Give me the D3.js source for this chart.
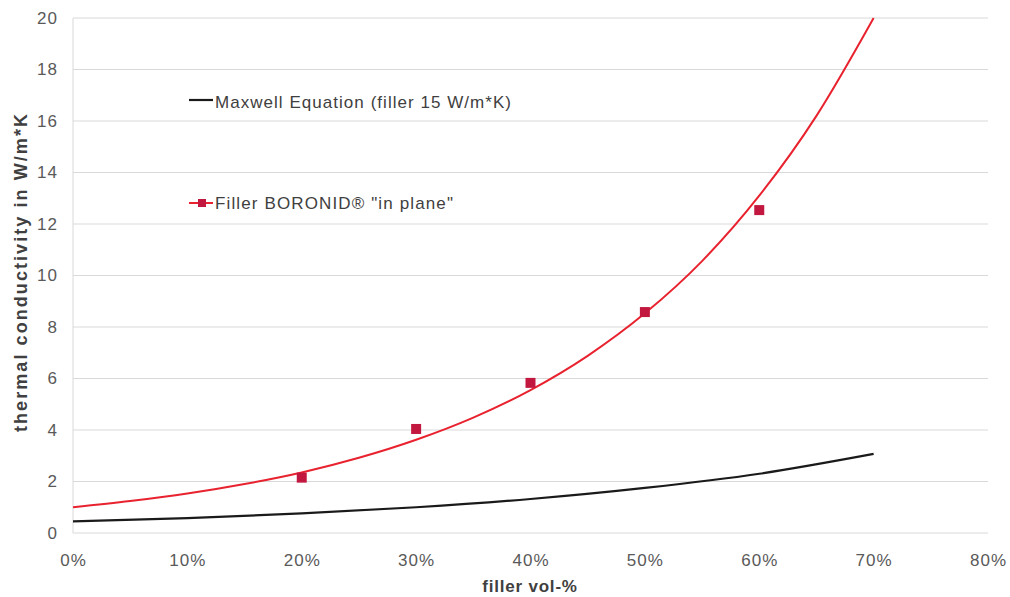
<!DOCTYPE html>
<html>
<head>
<meta charset="utf-8">
<script src="https://cdn.jsdelivr.net/npm/d3@7"></script>
<style>
  html, body { margin: 0; padding: 0; background: #fff; }
  svg { display: block; font-family: "Liberation Sans", Arial, sans-serif; }
</style>
</head>
<body>
<svg id="chart" width="1010" height="597"></svg>
<script>
// Axis ticks
const xTicks = [0, 10, 20, 30, 40, 50, 60, 70, 80];
const yTicks = [0, 2, 4, 6, 8, 10, 12, 14, 16, 18, 20];

// Maxwell equation curve (filler 15 W/m*K), filler vol-% vs W/m*K
const maxwellX = [0, 10, 20, 30, 40, 50, 60, 70];
const maxwellY = [0.45, 0.58, 0.76, 1.0, 1.32, 1.75, 2.3, 3.07];

// Measured BORONID "in plane" values
const boronidX = [20, 30, 40, 50, 60];
const boronidY = [2.15, 4.04, 5.83, 8.58, 12.54];

// Trend curve through the measured values
const trendX = [0, 5, 10, 15, 20, 25, 30, 35, 40, 45, 50, 55, 60, 65, 70];
const trendY = [1.0, 1.24, 1.53, 1.9, 2.35, 2.92, 3.62, 4.48, 5.55, 6.88, 8.53, 10.56, 13.1, 16.2, 20.0];

const svg = d3.select("#chart");
const plotLeft = 73, plotRight = 988, plotTop = 18, plotBottom = 533;

const x = d3.scaleLinear().domain([0, 80]).range([plotLeft, plotRight]);
const y = d3.scaleLinear().domain([0, 20]).range([plotBottom, plotTop]);

// Horizontal gridlines
svg.append("g")
  .selectAll("line")
  .data(yTicks)
  .join("line")
  .attr("x1", plotLeft).attr("x2", plotRight)
  .attr("y1", d => y(d)).attr("y2", d => y(d))
  .attr("stroke", "#d9d9d9").attr("stroke-width", 1);

// Left axis line
svg.append("line")
  .attr("x1", plotLeft).attr("x2", plotLeft)
  .attr("y1", plotTop).attr("y2", plotBottom)
  .attr("stroke", "#d9d9d9").attr("stroke-width", 1);

// Y axis
const yAxis = svg.append("g")
  .attr("transform", `translate(${plotLeft},0)`)
  .call(d3.axisLeft(y).tickValues(yTicks).tickSize(0).tickPadding(15));
yAxis.select(".domain").remove();
yAxis.selectAll("text")
  .attr("font-size", 17).attr("fill", "#595959").attr("letter-spacing", 1)
  .attr("font-family", "Liberation Sans, Arial, sans-serif");

// X axis
const xAxis = svg.append("g")
  .attr("transform", `translate(0,${plotBottom})`)
  .call(d3.axisBottom(x).tickValues(xTicks).tickSize(0).tickPadding(21)
    .tickFormat(d => d + "%"));
xAxis.select(".domain").remove();
xAxis.selectAll("text")
  .attr("font-size", 17).attr("fill", "#595959").attr("letter-spacing", 1)
  .attr("font-family", "Liberation Sans, Arial, sans-serif");

// Axis titles
svg.append("text")
  .attr("x", 530).attr("y", 592)
  .attr("text-anchor", "middle")
  .attr("font-size", 17).attr("font-weight", "bold").attr("fill", "#404040")
  .attr("letter-spacing", 0.8)
  .text("filler vol-%");

svg.append("text")
  .attr("transform", `translate(27,273) rotate(-90)`)
  .attr("text-anchor", "middle")
  .attr("font-size", 18).attr("font-weight", "bold").attr("fill", "#404040")
  .attr("textLength", 318).attr("lengthAdjust", "spacing")
  .text("thermal conductivity in W/m*K");

const line = d3.line()
  .x(d => x(d[0])).y(d => y(d[1]))
  .curve(d3.curveMonotoneX);

// Maxwell curve
svg.append("path")
  .datum(d3.zip(maxwellX, maxwellY))
  .attr("d", line)
  .attr("fill", "none").attr("stroke", "#1a1a1a").attr("stroke-width", 2.2);

// Trend curve
svg.append("path")
  .datum(d3.zip(trendX, trendY))
  .attr("d", line)
  .attr("fill", "none").attr("stroke", "#e8222e").attr("stroke-width", 2);

// Measured points
svg.append("g")
  .selectAll("rect")
  .data(d3.zip(boronidX, boronidY))
  .join("rect")
  .attr("x", d => x(d[0]) - 5).attr("y", d => y(d[1]) - 5)
  .attr("width", 10).attr("height", 10)
  .attr("fill", "#c21840");

// Legend
const legend = svg.append("g");
legend.append("line")
  .attr("x1", 189).attr("x2", 213).attr("y1", 100).attr("y2", 100)
  .attr("stroke", "#1a1a1a").attr("stroke-width", 2.2);
legend.append("text")
  .attr("x", 215).attr("y", 108)
  .attr("font-size", 17).attr("fill", "#404040")
  .attr("textLength", 296).attr("lengthAdjust", "spacing")
  .text("Maxwell Equation (filler 15 W/m*K)");

legend.append("line")
  .attr("x1", 189).attr("x2", 213).attr("y1", 203).attr("y2", 203)
  .attr("stroke", "#e8222e").attr("stroke-width", 2);
legend.append("rect")
  .attr("x", 198).attr("y", 199).attr("width", 8).attr("height", 8)
  .attr("fill", "#c21840");
legend.append("text")
  .attr("x", 215).attr("y", 209)
  .attr("font-size", 17).attr("fill", "#404040")
  .attr("textLength", 238).attr("lengthAdjust", "spacing")
  .text("Filler BORONID\u00AE  \"in plane\"");
</script>
</body>
</html>
